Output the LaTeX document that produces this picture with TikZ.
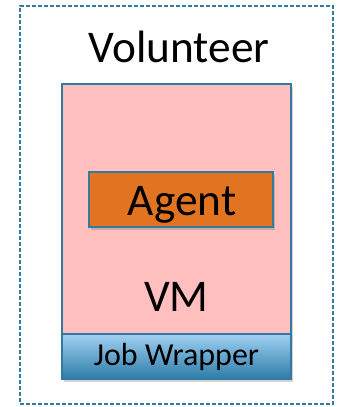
\documentclass[tikz,border=0pt]{standalone}
\usepackage{fontspec}
\setmainfont{Carlito}
\usepackage{tikz}
\usetikzlibrary{positioning, shadows}

\definecolor{vmpink}{RGB}{255,191,191}
\definecolor{edgeblue}{RGB}{52,122,160}
\definecolor{agentorange}{RGB}{226,115,32}
\definecolor{wraptop}{RGB}{160,208,242}
\definecolor{wrapbot}{RGB}{44,124,168}

\begin{document}
\begin{tikzpicture}[
    x=0.75pt, y=-0.75pt,
    host/.style={rectangle, draw=edgeblue, thick, dash pattern=on 3pt off 1.5pt, minimum width=234.75pt, minimum height=298.5pt},
    vmbox/.style={rectangle, draw=edgeblue, thick, fill=vmpink, minimum width=171.75pt, minimum height=187.5pt, outer sep=0pt,
        drop shadow={opacity=0.35, shadow xshift=1.5pt, shadow yshift=-2pt}},
    agentbox/.style={rectangle, draw=edgeblue, thick, fill=agentorange, minimum width=138pt, minimum height=41.25pt,
        drop shadow={opacity=0.4, shadow xshift=1.5pt, shadow yshift=-2pt}},
    wrapbox/.style={rectangle, draw=edgeblue, thick, top color=wraptop, bottom color=wrapbot, minimum width=171.75pt, minimum height=33.75pt, outer sep=0pt,
        drop shadow={opacity=0.35, shadow xshift=1.5pt, shadow yshift=-2pt}, font=\fontsize{24}{28}\selectfont},
    bigtext/.style={font=\fontsize{34}{40}\selectfont, inner sep=0pt, anchor=base}
]
\useasboundingbox (0,0) rectangle (339,407);

\node[host] (volunteer) at (176.5,205) {};
\node[bigtext] (voltext) at (179,62) {Volunteer};

\node[vmbox] (vm) at (176.5,209) {};
\node[wrapbox, below=0pt of vm] (wrapper) {Job Wrapper};
\node[agentbox] (agent) at (181,199.5) {};
\node[bigtext] (agenttext) at (182,215) {Agent};
\node[bigtext] (vmtext) at (176.5,311) {VM};

\end{tikzpicture}
\end{document}
